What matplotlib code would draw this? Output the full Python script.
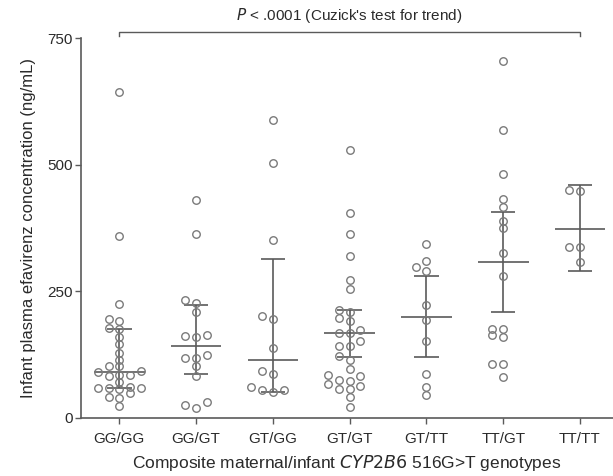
import matplotlib
matplotlib.use("Agg")
import matplotlib.pyplot as plt
import numpy as np

plt.rcParams["font.family"] = ["Liberation Sans", "DejaVu Sans"]

genotypes = ["GG/GG", "GG/GT", "GT/GG", "GT/GT", "GT/TT", "TT/GT", "TT/TT"]

# infant plasma efavirenz (ng/mL) per composite maternal/infant genotype
gg_gg = [643, 360, 224, 195, 192, 177, 176, 160, 146, 128, 115, 102, 102, 92,
         90, 85, 84, 82, 70, 62, 60, 60, 60, 57, 49, 42, 40, 24]
gg_gt = [431, 364, 233, 226, 210, 164, 162, 159, 125, 119, 118, 102, 82, 32, 26, 20]
gt_gg = [588, 503, 352, 202, 196, 139, 92, 87, 61, 55, 55, 51]
gt_gt = [529, 405, 364, 319, 273, 255, 214, 210, 197, 191, 174, 168, 168, 152,
         142, 142, 123, 115, 96, 85, 83, 75, 73, 67, 64, 57, 57, 42, 22]
gt_tt = [344, 309, 298, 291, 222, 193, 152, 86, 62, 45]
tt_gt = [704, 568, 482, 433, 416, 388, 375, 326, 281, 176, 176, 163, 159, 107, 107, 80]
tt_tt = [450, 448, 338, 338, 308]

groups = [gg_gg, gg_gt, gt_gg, gt_gt, gt_tt, tt_gt, tt_tt]

# summary line and interval bounds for each genotype
centre = [91, 142, 115, 168, 199, 308, 374]
lower = [60, 87, 51, 121, 121, 210, 290]
upper = [176, 222, 314, 214, 280, 406, 460]

p_label = "$\\it{P}$ < .0001 (Cuzick's test for trend)"


def swarm_offsets(vals, thr=13.0, step=0.14):
    # greedy column packing, lowest values first
    order = np.argsort(vals)
    cols = {}
    offs = np.zeros(len(vals))
    for i in order:
        v = vals[i]
        for k in [0, -1, 1, -2, 2, -3, 3, -4, 4]:
            if all(abs(v - u) >= thr for u in cols.get(k, [])):
                cols.setdefault(k, []).append(v)
                offs[i] = k * step
                break
    return offs


fig = plt.figure(figsize=(6.13, 4.76), dpi=100)
ax = fig.add_axes([0.132, 0.122, 0.868, 0.798])

line_col = "#5a5a5a"
pt_col = "#7a7a7a"
txt_col = "#2a2a2a"

for i, vals in enumerate(groups):
    vals = np.array(vals, dtype=float)
    x = i + swarm_offsets(vals)
    ax.plot(x, vals, "o", ms=5.4, mfc="none", mec=pt_col, mew=1.0, zorder=3)

    ax.vlines(i, lower[i], upper[i], color=line_col, lw=1.2, zorder=2)
    ax.hlines([lower[i], upper[i]], i - 0.16, i + 0.16, color=line_col, lw=1.2, zorder=2)
    ax.hlines(centre[i], i - 0.33, i + 0.33, color=line_col, lw=1.2, zorder=2)

# trend bracket over all groups
ax.plot([0, 0, 6, 6], [754, 762, 762, 754], color=line_col, lw=1.0, clip_on=False)
ax.text(3, 776, p_label, ha="center", va="bottom", fontsize=11, color=txt_col)

ax.set_xlim(-0.5, 6.43)
ax.set_ylim(0, 750)
ax.set_yticks([0, 250, 500, 750])
ax.set_xticks(range(len(genotypes)))
ax.set_xticklabels(genotypes)

for side in ["top", "right"]:
    ax.spines[side].set_visible(False)
for side in ["left", "bottom"]:
    ax.spines[side].set_color(line_col)
    ax.spines[side].set_linewidth(1.2)

ax.tick_params(axis="both", colors=line_col, labelcolor=txt_col, labelsize=11,
               length=4, width=1.0)
ax.tick_params(axis="x", pad=6)
ax.tick_params(axis="y", pad=2)

ax.set_ylabel("Infant plasma efavirenz concentration (ng/mL)", fontsize=12,
              color=txt_col, labelpad=8)
ax.set_xlabel("Composite maternal/infant $\\it{CYP2B6}$ 516G>T genotypes",
              fontsize=12.5, color=txt_col, labelpad=5)

fig.savefig("out.png", dpi=100)
